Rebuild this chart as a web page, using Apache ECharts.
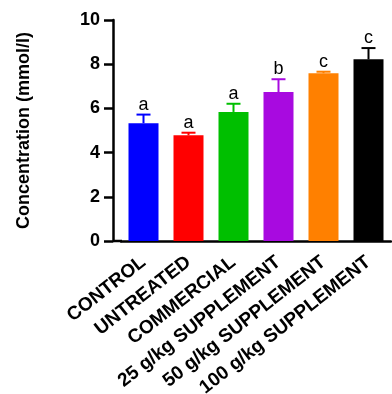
<!DOCTYPE html>
<html>
<head>
<meta charset="utf-8">
<script src="https://cdn.jsdelivr.net/npm/echarts@6/dist/echarts.min.js"></script>
<style>
  html, body { margin: 0; padding: 0; background: #fff; overflow: hidden; }
  #chart { width: 392px; height: 394px; }
</style>
</head>
<body>
<div id="chart"></div>
<script>
// Groups, mean concentrations, upper error (SD) and significance letters
const categories = ['CONTROL', 'UNTREATED', 'COMMERCIAL', '25 g/kg SUPPLEMENT', '50 g/kg SUPPLEMENT', '100 g/kg SUPPLEMENT'];
const means = [5.33, 4.78, 5.84, 6.74, 7.59, 8.22];
const errors = [0.39, 0.12, 0.37, 0.58, 0.07, 0.51];
const letters = ['a', 'a', 'a', 'b', 'c', 'c'];
const colors = ['#0000ff', '#ff0000', '#00bf00', '#a80ae0', '#ff8000', '#000000'];
const yTicks = [0, 2, 4, 6, 8, 10];

const FONT = '"Liberation Sans", Arial, sans-serif';
const chart = echarts.init(document.getElementById('chart'));

const option = {
  animation: false,
  grid: { left: 121, right: 1, top: 20, bottom: 153, containLabel: false, outerBoundsMode: 'none' },
  xAxis: {
    type: 'category',
    data: categories,
    axisLine: { lineStyle: { color: '#000', width: 2.5 } },
    axisTick: { alignWithLabel: true, length: 9, lineStyle: { color: '#000', width: 2.5 } },
    axisLabel: {
      interval: 0, rotate: 38, margin: 19,
      color: '#000', fontFamily: FONT, fontWeight: 'bold', fontSize: 19
    }
  },
  yAxis: {
    type: 'value',
    min: yTicks[0], max: yTicks[yTicks.length - 1], interval: 2,
    offset: 8,
    name: 'Concentration (mmol/l)',
    nameLocation: 'middle', nameGap: 80,
    nameTextStyle: { color: '#000', fontFamily: FONT, fontWeight: 'bold', fontSize: 18 },
    axisLine: { show: true, lineStyle: { color: '#000', width: 2.5 } },
    axisTick: { show: true, length: 9, lineStyle: { color: '#000', width: 2.5 } },
    axisLabel: { margin: 13, color: '#000', fontFamily: FONT, fontWeight: 'bold', fontSize: 18 },
    splitLine: { show: false }
  },
  series: [
    {
      type: 'bar',
      barWidth: 30,
      data: means.map((v, i) => ({ value: v, itemStyle: { color: colors[i] } }))
    },
    {
      // upper error whiskers with caps, plus the letter above each
      type: 'custom',
      data: means.map((v, i) => [i, v, v + errors[i]]),
      z: 5,
      renderItem: function (params, api) {
        const i = api.value(0);
        const base = api.coord([i, api.value(1)]);
        const top = api.coord([i, api.value(2)]);
        const half = 7;
        const col = colors[i];
        return {
          type: 'group',
          children: [
            { type: 'line', shape: { x1: base[0], y1: base[1], x2: top[0], y2: top[1] },
              style: { stroke: col, lineWidth: 2 } },
            { type: 'line', shape: { x1: top[0] - half, y1: top[1], x2: top[0] + half, y2: top[1] },
              style: { stroke: col, lineWidth: 2 } },
            { type: 'text',
              style: { x: top[0], y: top[1] - 1, text: letters[i], align: 'center', verticalAlign: 'bottom',
                       fill: '#000', font: '18px ' + FONT } }
          ]
        };
      }
    }
  ]
};
chart.setOption(option);

// close the short gap between the offset y axis and the start of the x axis line
const y0 = chart.convertToPixel({ yAxisIndex: 0 }, 0);
chart.setOption({
  graphic: [{
    type: 'line', z: 10,
    shape: { x1: 121 - 8, y1: y0, x2: 122, y2: y0 },
    style: { stroke: '#000', lineWidth: 2.5 }
  }]
});
</script>
</body>
</html>
